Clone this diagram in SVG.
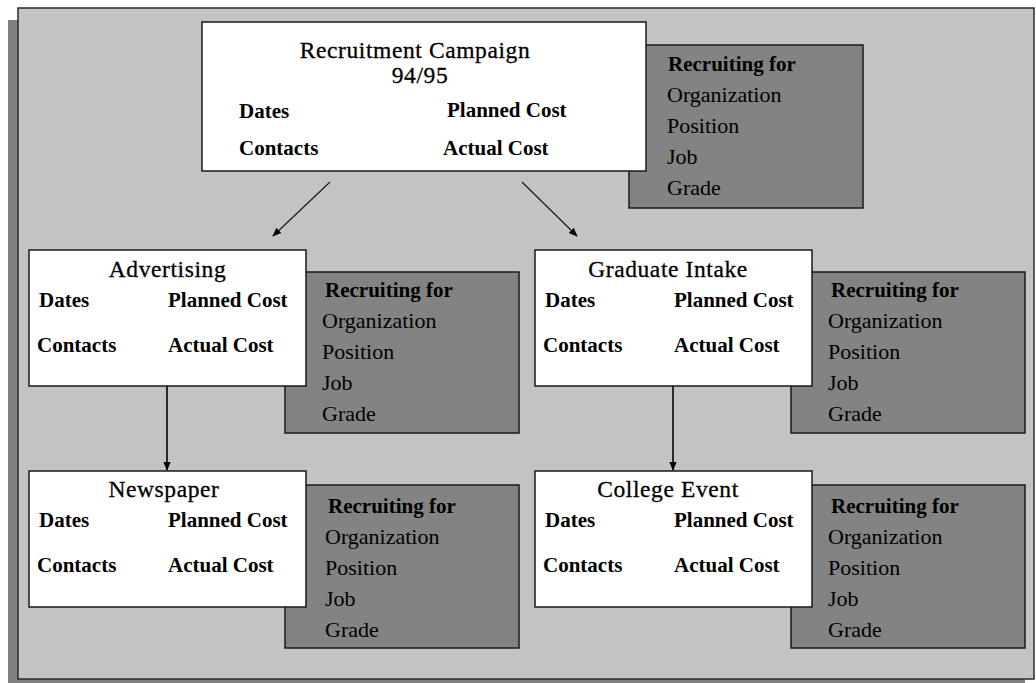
<svg xmlns="http://www.w3.org/2000/svg" width="1036" height="683" viewBox="0 0 1036 683">
<defs>
<style>
.panel{fill:#c3c3c3;stroke:#2a2a2a;stroke-width:1.5}
.shadow{fill:#808080}
.node{fill:#ffffff;stroke:#1a1a1a;stroke-width:1.5}
.rec{fill:#838383;stroke:#1a1a1a;stroke-width:1.5}
text{font-family:"Liberation Serif","Times New Roman",serif;fill:#000}
.title{font-size:23.5px;letter-spacing:0.6px;text-anchor:middle;stroke:#000;stroke-width:0.3}
.lbl{font-size:21px;font-weight:bold}
.rh{font-size:21px;font-weight:bold}
.ri{font-size:22px}
.conn{stroke:#1a1a1a;stroke-width:1.2;fill:none;marker-end:url(#arr)}
.vconn{stroke:#1a1a1a;stroke-width:1.8;fill:none;marker-end:url(#arr)}
</style>
<marker id="arr" viewBox="0 0 10 10" refX="9" refY="5" markerWidth="9" markerHeight="9" markerUnits="userSpaceOnUse" orient="auto">
<path d="M0,1 L10,5 L0,9 z" fill="#000"/>
</marker>
</defs>
<rect class="shadow" x="8" y="20" width="1017" height="663"/>
<rect class="panel" x="18" y="8" width="1016" height="671"/>

<g id="connectors">
<line class="conn" x1="330" y1="182" x2="273" y2="236"/>
<line class="conn" x1="522" y1="182" x2="577" y2="236"/>
<line class="vconn" x1="167" y1="386" x2="167" y2="470"/>
<line class="vconn" x1="673" y1="386" x2="673" y2="470"/>
</g>

<g id="campaign">
<rect class="rec" x="629" y="45" width="234" height="163"/>
<text class="rh" x="668" y="71">Recruiting for</text>
<text class="ri" x="667" y="102">Organization</text>
<text class="ri" x="667" y="133">Position</text>
<text class="ri" x="667" y="164">Job</text>
<text class="ri" x="667" y="195">Grade</text>
<rect class="node" x="202" y="22" width="444" height="149"/>
<text class="title" x="415" y="58">Recruitment Campaign</text>
<text class="title" x="420" y="83">94/95</text>
<text class="lbl" x="239" y="118">Dates</text>
<text class="lbl" x="447" y="117">Planned Cost</text>
<text class="lbl" x="239" y="155">Contacts</text>
<text class="lbl" x="443" y="155">Actual Cost</text>
</g>

<g id="advertising">
<rect class="rec" x="285" y="272" width="234" height="161"/>
<text class="rh" x="325" y="297">Recruiting for</text>
<text class="ri" x="322" y="328">Organization</text>
<text class="ri" x="322" y="359">Position</text>
<text class="ri" x="322" y="390">Job</text>
<text class="ri" x="322" y="421">Grade</text>
<rect class="node" x="29" y="250" width="277" height="136"/>
<text class="title" x="167.5" y="277">Advertising</text>
<text class="lbl" x="39" y="307">Dates</text>
<text class="lbl" x="168" y="307">Planned Cost</text>
<text class="lbl" x="37" y="352">Contacts</text>
<text class="lbl" x="168" y="352">Actual Cost</text>
</g>

<g id="graduate-intake">
<rect class="rec" x="791" y="272" width="234" height="161"/>
<text class="rh" x="831" y="297">Recruiting for</text>
<text class="ri" x="828" y="328">Organization</text>
<text class="ri" x="828" y="359">Position</text>
<text class="ri" x="828" y="390">Job</text>
<text class="ri" x="828" y="421">Grade</text>
<rect class="node" x="535" y="250" width="277" height="136"/>
<text class="title" x="668" y="277">Graduate Intake</text>
<text class="lbl" x="545" y="307">Dates</text>
<text class="lbl" x="674" y="307">Planned Cost</text>
<text class="lbl" x="543" y="352">Contacts</text>
<text class="lbl" x="674" y="352">Actual Cost</text>
</g>

<g id="newspaper">
<rect class="rec" x="285" y="485" width="234" height="163"/>
<text class="rh" x="328" y="513">Recruiting for</text>
<text class="ri" x="325" y="544">Organization</text>
<text class="ri" x="325" y="575">Position</text>
<text class="ri" x="325" y="606">Job</text>
<text class="ri" x="325" y="637">Grade</text>
<rect class="node" x="29" y="471" width="277" height="136"/>
<text class="title" x="164" y="497">Newspaper</text>
<text class="lbl" x="39" y="527">Dates</text>
<text class="lbl" x="168" y="527">Planned Cost</text>
<text class="lbl" x="37" y="572">Contacts</text>
<text class="lbl" x="168" y="572">Actual Cost</text>
</g>

<g id="college-event">
<rect class="rec" x="791" y="485" width="234" height="163"/>
<text class="rh" x="831" y="513">Recruiting for</text>
<text class="ri" x="828" y="544">Organization</text>
<text class="ri" x="828" y="575">Position</text>
<text class="ri" x="828" y="606">Job</text>
<text class="ri" x="828" y="637">Grade</text>
<rect class="node" x="535" y="471" width="277" height="136"/>
<text class="title" x="668" y="497">College Event</text>
<text class="lbl" x="545" y="527">Dates</text>
<text class="lbl" x="674" y="527">Planned Cost</text>
<text class="lbl" x="543" y="572">Contacts</text>
<text class="lbl" x="674" y="572">Actual Cost</text>
</g>
</svg>
